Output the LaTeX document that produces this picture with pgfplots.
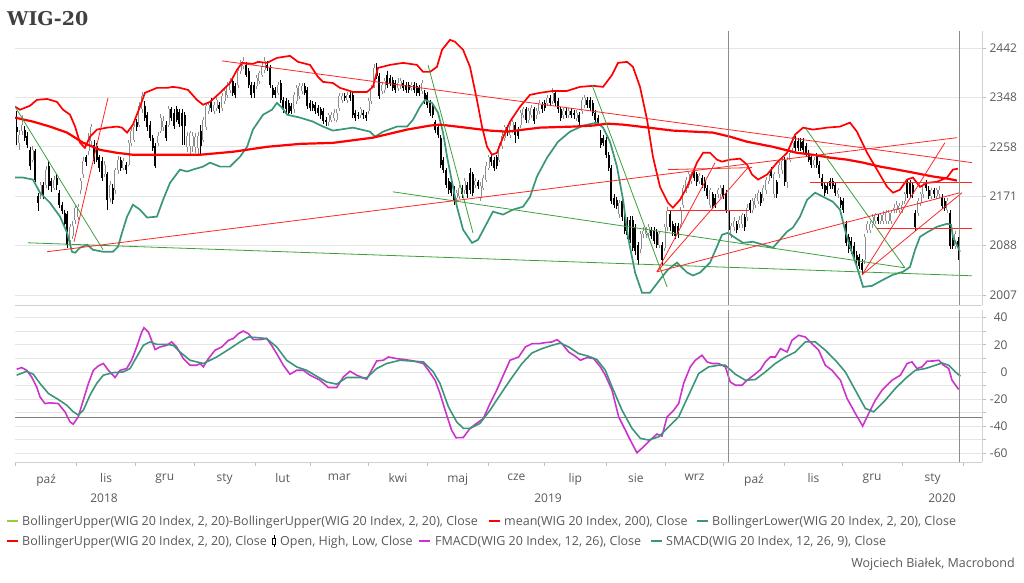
\documentclass[border=0pt]{standalone}
\usepackage{pgfplots}
\pgfplotsset{compat=1.18}
\usepackage{pgfplotstable}
\usepackage{fontspec}
\setmainfont{Open Sans}
\newfontfamily\titlefont{DejaVu Serif}

\definecolor{bbred}{RGB}{255,0,0}
\definecolor{bbteal}{RGB}{58,150,120}
\definecolor{fmag}{RGB}{204,51,204}
\definecolor{trgreen}{RGB}{60,160,60}
\definecolor{lgreen}{RGB}{154,205,50}
\definecolor{labc}{RGB}{89,89,89}
\definecolor{upc}{RGB}{140,140,140}

\pgfplotstableread{
j o h l c
0 2293 2324 2262 2284
1 2265 2289 2253 2280
2 2287 2316 2280 2298
3 2289 2295 2269 2274
4 2278 2284 2256 2262
5 2253 2258 2217 2224
6 2235 2260 2230 2253
7 2251 2254 2195 2200
8 2172 2177 2146 2160
9 2174 2196 2167 2191
10 2191 2196 2166 2172
11 2191 2223 2186 2216
12 2224 2232 2182 2189
13 2198 2203 2179 2189
14 2186 2207 2181 2200
15 2203 2210 2182 2191
16 2177 2182 2151 2156
17 2156 2161 2141 2146
18 2143 2148 2118 2123
19 2140 2145 2084 2089
20 2096 2124 2087 2118
21 2104 2128 2099 2121
22 2131 2156 2124 2151
23 2135 2158 2130 2153
24 2181 2203 2175 2198
25 2209 2239 2203 2233
26 2239 2244 2224 2230
27 2251 2282 2244 2274
28 2269 2300 2262 2293
29 2262 2271 2228 2233
30 2260 2265 2230 2235
31 2239 2244 2214 2221
32 2233 2239 2198 2203
33 2209 2232 2204 2226
34 2209 2214 2148 2165
35 2168 2198 2161 2191
36 2186 2193 2158 2165
37 2181 2221 2175 2216
38 2216 2242 2210 2235
39 2235 2240 2215 2221
40 2221 2238 2216 2233
41 2226 2231 2210 2216
42 2226 2271 2223 2265
43 2265 2295 2260 2287
44 2271 2300 2266 2293
45 2302 2309 2287 2293
46 2298 2340 2293 2333
47 2326 2359 2320 2351
48 2333 2342 2305 2311
49 2316 2322 2287 2293
50 2298 2304 2269 2274
51 2274 2280 2251 2256
52 2260 2265 2221 2224
53 2265 2285 2260 2278
54 2287 2318 2282 2311
55 2293 2313 2287 2305
56 2298 2305 2269 2274
57 2298 2333 2293 2326
58 2326 2331 2305 2311
59 2320 2326 2291 2296
60 2326 2333 2302 2307
61 2322 2327 2293 2300
62 2320 2326 2262 2296
63 2316 2322 2262 2296
64 2258 2284 2249 2278
65 2260 2286 2245 2282
66 2260 2284 2249 2278
67 2258 2282 2247 2276
68 2256 2284 2245 2278
69 2287 2298 2244 2260
70 2271 2312 2266 2307
71 2293 2338 2288 2333
72 2324 2340 2318 2335
73 2342 2347 2322 2329
74 2324 2340 2318 2335
75 2329 2349 2324 2344
76 2335 2340 2320 2326
77 2329 2357 2323 2351
78 2342 2366 2336 2361
79 2353 2377 2348 2372
80 2362 2385 2357 2379
81 2379 2385 2351 2357
82 2370 2375 2348 2353
83 2372 2404 2366 2398
84 2398 2419 2393 2414
85 2408 2425 2402 2418
86 2410 2416 2386 2391
87 2398 2403 2366 2372
88 2372 2377 2347 2353
89 2372 2377 2348 2357
90 2370 2390 2364 2385
91 2379 2399 2374 2395
92 2391 2413 2386 2408
93 2400 2425 2395 2418
94 2410 2417 2399 2404
95 2404 2409 2366 2372
96 2366 2371 2348 2353
97 2362 2367 2348 2353
98 2357 2377 2352 2372
99 2375 2381 2338 2344
100 2344 2349 2320 2326
101 2342 2347 2320 2326
102 2338 2343 2314 2320
103 2333 2338 2318 2324
104 2326 2358 2320 2353
105 2342 2371 2337 2366
106 2351 2375 2346 2370
107 2361 2375 2355 2370
108 2370 2375 2352 2357
109 2362 2367 2327 2333
110 2338 2343 2323 2329
111 2336 2341 2323 2329
112 2335 2340 2318 2324
113 2329 2334 2314 2320
114 2326 2331 2309 2315
115 2324 2329 2299 2305
116 2307 2312 2295 2302
117 2302 2320 2296 2315
118 2307 2322 2302 2316
119 2311 2326 2305 2320
120 2307 2326 2302 2320
121 2329 2357 2324 2351
122 2344 2357 2338 2351
123 2351 2356 2342 2348
124 2344 2358 2338 2353
125 2353 2361 2342 2348
126 2353 2358 2311 2316
127 2320 2325 2305 2311
128 2316 2322 2309 2315
129 2316 2331 2311 2326
130 2320 2325 2309 2315
131 2316 2322 2305 2311
132 2324 2347 2318 2342
133 2342 2371 2337 2366
134 2372 2412 2366 2404
135 2404 2414 2383 2389
136 2389 2394 2346 2351
137 2361 2377 2355 2372
138 2362 2385 2357 2379
139 2391 2398 2366 2372
140 2385 2390 2370 2375
141 2381 2386 2361 2366
142 2375 2381 2357 2362
143 2366 2385 2361 2375
144 2370 2385 2364 2379
145 2375 2381 2361 2366
146 2372 2377 2357 2362
147 2372 2377 2356 2362
148 2366 2377 2361 2372
149 2372 2377 2357 2362
150 2370 2375 2351 2357
151 2366 2371 2351 2357
152 2361 2381 2355 2375
153 2357 2362 2336 2342
154 2353 2358 2329 2335
155 2338 2343 2314 2320
156 2333 2338 2311 2316
157 2302 2307 2283 2289
158 2293 2298 2274 2280
159 2274 2280 2221 2226
160 2235 2240 2212 2217
161 2216 2221 2186 2191
162 2198 2203 2175 2181
163 2195 2200 2171 2177
164 2182 2188 2156 2165
165 2168 2182 2162 2177
166 2172 2191 2166 2186
167 2186 2191 2168 2174
168 2181 2203 2175 2198
169 2191 2196 2168 2174
170 2212 2221 2175 2181
171 2209 2214 2171 2177
172 2191 2203 2186 2198
173 2195 2200 2184 2189
174 2168 2195 2163 2189
175 2186 2208 2181 2203
176 2200 2230 2195 2224
177 2221 2244 2216 2239
178 2239 2244 2224 2230
179 2235 2240 2215 2221
180 2239 2244 2218 2224
181 2235 2265 2230 2260
182 2260 2284 2254 2278
183 2274 2298 2269 2293
184 2293 2298 2278 2284
185 2280 2302 2274 2296
186 2289 2307 2283 2302
187 2298 2303 2265 2280
188 2289 2294 2272 2278
189 2298 2325 2292 2320
190 2316 2331 2311 2326
191 2326 2331 2301 2307
192 2307 2329 2301 2324
193 2316 2335 2311 2329
194 2326 2331 2299 2305
195 2315 2329 2309 2324
196 2324 2344 2318 2338
197 2335 2340 2320 2326
198 2338 2344 2323 2329
199 2338 2353 2333 2348
200 2348 2353 2332 2338
201 2342 2366 2337 2357
202 2357 2362 2332 2338
203 2342 2347 2320 2326
204 2326 2331 2305 2311
205 2315 2329 2309 2324
206 2324 2329 2311 2316
207 2316 2329 2311 2324
208 2324 2329 2311 2316
209 2320 2325 2309 2315
210 2311 2325 2305 2320
211 2316 2322 2296 2302
212 2324 2349 2318 2344
213 2335 2353 2329 2348
214 2344 2349 2329 2335
215 2344 2349 2323 2329
216 2338 2343 2314 2320
217 2320 2325 2301 2307
218 2311 2316 2296 2302
219 2274 2289 2256 2262
220 2274 2280 2260 2265
221 2271 2276 2238 2244
222 2244 2249 2215 2221
223 2221 2226 2157 2163
224 2168 2174 2150 2156
225 2165 2170 2149 2155
226 2140 2165 2134 2160
227 2163 2168 2129 2135
228 2135 2140 2106 2112
229 2129 2135 2099 2105
230 2131 2137 2091 2097
231 2131 2137 2078 2084
232 2118 2123 2072 2079
233 2089 2094 2056 2063
234 2081 2111 2075 2106
235 2106 2118 2100 2112
236 2106 2119 2100 2114
237 2109 2123 2103 2118
238 2114 2119 2098 2104
239 2112 2118 2090 2095
240 2110 2115 2083 2089
241 2089 2111 2083 2106
242 2089 2094 2054 2063
243 2084 2123 2078 2118
244 2118 2152 2112 2146
245 2140 2145 2112 2118
246 2123 2128 2104 2110
247 2121 2126 2098 2104
248 2121 2126 2100 2106
249 2123 2152 2117 2146
250 2156 2191 2151 2186
251 2182 2205 2177 2200
252 2191 2214 2186 2209
253 2198 2214 2193 2209
254 2216 2221 2198 2203
255 2209 2214 2189 2195
256 2198 2212 2193 2207
257 2203 2208 2186 2191
258 2200 2205 2180 2186
259 2186 2191 2166 2172
260 2156 2186 2151 2181
261 2174 2179 2149 2155
262 2168 2174 2151 2156
263 2174 2186 2168 2181
264 2174 2191 2168 2186
265 2186 2191 2166 2172
266 2177 2182 2142 2148
267 2148 2153 2079 2114
268 2106 2126 2100 2121
269 2118 2135 2112 2129
270 2123 2128 2108 2114
271 2123 2137 2117 2131
272 2123 2143 2117 2138
273 2135 2140 2112 2118
274 2135 2157 2129 2151
275 2160 2165 2142 2148
276 2148 2168 2142 2163
277 2156 2174 2151 2168
278 2163 2182 2158 2177
279 2174 2179 2154 2160
280 2168 2191 2163 2186
281 2181 2205 2175 2200
282 2198 2214 2193 2209
283 2217 2222 2202 2207
284 2174 2214 2168 2209
285 2195 2200 2168 2174
286 2209 2231 2203 2226
287 2216 2238 2210 2233
288 2235 2240 2189 2195
289 2195 2240 2186 2235
290 2235 2253 2230 2247
291 2256 2276 2251 2265
292 2269 2278 2251 2256
293 2269 2274 2251 2256
294 2267 2273 2251 2256
295 2269 2274 2247 2253
296 2260 2265 2242 2247
297 2247 2253 2230 2235
298 2239 2244 2221 2226
299 2226 2240 2221 2235
300 2242 2247 2221 2226
301 2226 2232 2203 2209
302 2203 2209 2184 2189
303 2191 2196 2171 2177
304 2189 2195 2175 2181
305 2198 2203 2184 2189
306 2198 2203 2184 2189
307 2191 2196 2171 2177
308 2174 2186 2168 2181
309 2165 2170 2151 2156
310 2163 2168 2142 2148
311 2123 2128 2087 2092
312 2101 2106 2075 2081
313 2095 2101 2073 2079
314 2087 2093 2067 2072
315 2072 2078 2057 2063
316 2068 2073 2049 2054
317 2059 2065 2041 2047
318 2063 2106 2057 2101
319 2114 2128 2108 2123
320 2114 2128 2108 2123
321 2123 2140 2117 2135
322 2129 2143 2124 2138
323 2135 2140 2124 2129
324 2129 2143 2124 2138
325 2129 2145 2124 2139
326 2129 2148 2124 2143
327 2129 2148 2124 2143
328 2129 2148 2124 2143
329 2148 2157 2142 2151
330 2148 2162 2142 2156
331 2148 2160 2142 2155
332 2148 2162 2142 2156
333 2163 2179 2158 2174
334 2195 2200 2168 2174
335 2195 2200 2168 2174
336 2191 2196 2168 2174
337 2143 2148 2112 2118
338 2143 2168 2137 2163
339 2160 2179 2154 2174
340 2174 2196 2168 2191
341 2195 2200 2180 2186
342 2182 2188 2166 2172
343 2172 2186 2166 2181
344 2181 2186 2168 2174
345 2172 2186 2166 2181
346 2174 2188 2168 2182
347 2168 2174 2149 2155
348 2163 2168 2146 2151
349 2148 2168 2142 2163
350 2143 2148 2082 2087
351 2097 2103 2082 2087
352 2087 2111 2082 2106
353 2095 2101 2063 2084
}\ohlc

% split the OHLC table into jump-separated segment lists (down = black, up = hollow)
\pgfplotstablegetrowsof{\ohlc}
\pgfmathtruncatemacro{\lastrow}{\pgfplotsretval-1}
\gdef\wickdn{}\gdef\bodydn{}\gdef\wickup{}\gdef\bodyup{}
\foreach \rowi in {0,...,\lastrow}{%
  \pgfplotstablegetelem{\rowi}{j}\of\ohlc\let\candJ\pgfplotsretval
  \pgfplotstablegetelem{\rowi}{o}\of\ohlc\let\candO\pgfplotsretval
  \pgfplotstablegetelem{\rowi}{h}\of\ohlc\let\candH\pgfplotsretval
  \pgfplotstablegetelem{\rowi}{l}\of\ohlc\let\candL\pgfplotsretval
  \pgfplotstablegetelem{\rowi}{c}\of\ohlc\let\candC\pgfplotsretval
  \ifdim\candO pt>\candC pt\relax
    \xdef\wickdn{\wickdn(\candJ,\candL)(\candJ,\candH)(\candJ,nan)}%
    \xdef\bodydn{\bodydn(\candJ,\candO)(\candJ,\candC)(\candJ,nan)}%
  \else
    \xdef\wickup{\wickup(\candJ,\candL)(\candJ,\candH)(\candJ,nan)}%
    \xdef\bodyup{\bodyup(\candJ,\candC)(\candJ,\candO)(\candJ,nan)}%
  \fi
}
\newcommand\plotsegs[2]{\edef\plotsegstmp{\noexpand\addplot[#1] coordinates {#2};}\plotsegstmp}

\pgfplotsset{
  wigbase/.style={
    scale only axis, width=967pt,
    xmin=-0.626, xmax=362.0,
    axis x line*=bottom, axis y line*=right,
    tick align=outside,
    axis line style={draw=black!18, line width=0.6pt},
    tick style={draw=black!25, line width=0.6pt},
    major tick length=4pt, minor tick length=4pt,
    ymajorgrids,
    major grid style={draw=black!10, line width=0.7pt},
    minor grid style={draw=black!10, line width=0.7pt},
    ticklabel style={font=\fontsize{12}{14}\selectfont, text=labc},
    unbounded coords=jump,
    clip=true,
  }
}

\begin{document}
\begin{tikzpicture}
\useasboundingbox (0pt,0pt) rectangle (1024pt,-582pt);

% ---------------- price panel ----------------
\begin{axis}[wigbase,
  at={(15pt,-31pt)}, anchor=north west, height=274pt,
  ymode=log, ymin=1991.6, ymax=2475.8,
  xtick=\empty,
  ytick={2007,2088,2171,2258,2348,2442},
  yticklabels={2007,2088,2171,2258,2348,2442},
  yticklabel style={anchor=west, xshift=0pt},
]
% candles
\plotsegs{draw=upc, line width=0.6pt, forget plot}{\wickup}
\plotsegs{draw=upc, line width=1.9pt, forget plot}{\bodyup}
\plotsegs{draw=white, line width=0.7pt, forget plot}{\bodyup}
\plotsegs{draw=black, line width=0.6pt, forget plot}{\wickdn}
\plotsegs{draw=black, line width=1.8pt, forget plot}{\bodydn}

% Bollinger lower
\addplot[bbteal, line width=1.7pt, forget plot] coordinates {
(-0.6,2203.4)(2.4,2203.4)(6.1,2199.9)(8.75,2177.1)(12.5,2159.7)(16.25,2136.1)(18.9,2108.8)(20.75,2077.3)(21.9,2075.6)(23.75,2083.9)(26.4,2088.9)(28.6,2080.5)(32.4,2077.3)(36.1,2077.3)(38,2085.5)(39.5,2108.8)(41.4,2136.1)(43.6,2156.4)(46.25,2147.9)(48.9,2134.5)(52.6,2136.1)(54.9,2164.8)(57.5,2194.2)(61.25,2217.4)(63.9,2213.9)(66.1,2217.4)(69.9,2222.7)(72.5,2229.7)(76.25,2222.7)(80,2222.7)(83.75,2240.2)(86.4,2257.9)(88.6,2289)(92.4,2316.3)(95.75,2325.5)(97.6,2338.2)(99.5,2329.1)(101.4,2316.3)(106.25,2310.9)(111.1,2303.6)(114.9,2294.5)(118.6,2287.2)(121.25,2289)(126.1,2292.6)(132.5,2285.3)(134.4,2276.2)(137.4,2285.3)(142.6,2294.5)(146.4,2294.5)(148.6,2306.8)(151.25,2331)(153.1,2343.7)(155.75,2338.2)(158,2320)(159.9,2283.5)(161.4,2240.2)(163.25,2195.9)(165.1,2153)(167.4,2114)(170.75,2092.1)(173,2097.1)(175.6,2118.9)(178.6,2144.6)(182.4,2139.5)(186.1,2147.9)(189.9,2153)(192.5,2169.9)(195.1,2205.2)(198.9,2238.5)(203,2267.1)(207.5,2285.3)(212.4,2296.3)(217.6,2301.7)(219.9,2292.6)(222.5,2267.1)(225.1,2222.7)(227.4,2164.8)(229.25,2102.1)(231.9,2043.2)(234.5,2010.8)(237.5,2010.8)(241.25,2031.9)(244.25,2048.1)(247.6,2059.4)(251.4,2043.2)(253.6,2038.4)(256.25,2043.2)(260,2059.4)(262.6,2085.5)(264.5,2105.5)(266.75,2108.8)(269.4,2100.5)(272.4,2092.1)(276.1,2093.8)(279.9,2088.9)(283.6,2083.9)(286.25,2097.4)(288.9,2110.8)(291.1,2117.6)(293.75,2136.1)(296.4,2164.8)(299.4,2177.1)(302.4,2170.1)(306.1,2161.4)(308.75,2147.9)(310.6,2114)(312.5,2085.5)(315.1,2052.4)(317.4,2020)(320.75,2021.7)(324.9,2031.5)(328.6,2039.6)(332.4,2044.5)(335,2052.4)(336.9,2080.5)(338.75,2102.1)(341.75,2110.5)(345.1,2118.9)(348.9,2124)(350.4,2122.3)(351.1,2102.1)(353.75,2077.3)};

% Bollinger upper
\addplot[bbred, line width=1.7pt, forget plot] coordinates {
(-0.6,2331)(1.25,2325.5)(5,2332.8)(7.6,2343.7)(11.4,2345.5)(15.1,2340)(17.4,2325.5)(20,2316.3)(21.9,2294.5)(23.75,2265.3)(25.6,2256.1)(27.5,2276.2)(30.1,2289)(33.9,2292.6)(37.6,2294.5)(39.5,2292.6)(41.4,2283.5)(43.6,2298.1)(46.25,2331)(48.1,2356.9)(52.6,2366.2)(56.4,2366.2)(58.6,2368.1)(61.25,2366.2)(64.25,2362.4)(67.6,2343.7)(69.9,2334.6)(72.5,2340)(76.25,2356.9)(80,2375.4)(82.6,2400.2)(84.5,2413.7)(88.6,2411.7)(90.5,2415.6)(93.9,2413.7)(97.6,2423.3)(102.5,2427.2)(105.5,2415.6)(110,2409.8)(113,2386.9)(114.9,2377.4)(118.6,2375.4)(121.25,2366.2)(126.1,2358.6)(131.4,2358.6)(133.6,2368.1)(135.5,2404.1)(140,2409.8)(144.9,2413.7)(150.1,2409.8)(152.4,2396.4)(155,2396.4)(157.6,2406)(159.5,2438.8)(162.5,2458.3)(164.4,2454.4)(167.4,2438.8)(170,2406)(172.6,2343.7)(174.5,2294.5)(176.4,2257.9)(178.25,2243.7)(180.1,2247.2)(182,2270.7)(185,2303.6)(188.75,2331)(192.5,2353.1)(196.25,2356.9)(201.1,2360.5)(206.4,2360.5)(211.25,2368.1)(216.1,2370)(219.9,2368.1)(223.25,2390.7)(225.5,2413.7)(228.9,2415.6)(231.1,2406)(233.75,2368.1)(236.4,2306.8)(238.6,2240.2)(241.25,2187.2)(244.25,2159.7)(246.1,2151.3)(248.75,2164.8)(251.4,2187.2)(255.1,2229.7)(257.4,2247.2)(260,2247.2)(262.6,2235)(264.5,2231.5)(267.5,2235)(271.25,2236.7)(273.9,2226.2)(275.75,2208.7)(278,2199.9)(281.4,2208.7)(285.1,2229.7)(288.9,2247.2)(291.9,2279.9)(294.9,2292.6)(298.6,2289)(303.9,2292.6)(308.75,2294.5)(312.5,2301.7)(315.1,2285.3)(318.9,2247.2)(322.6,2217.4)(326.4,2187.2)(328.6,2177.1)(331.25,2182.3)(333.9,2199.9)(336.1,2203.4)(338.75,2187.2)(341.4,2194.2)(345.1,2195.9)(348.9,2203.4)(351.1,2217.4)(353,2219.1)};

% 200-day mean
\addplot[bbred, line width=2.2pt, forget plot] coordinates {
(-0.6,2310.9)(6.1,2303.6)(12.5,2294.5)(18.9,2283.5)(24.9,2265.3)(31.25,2252.5)(37.6,2247.2)(43.6,2243.7)(56.4,2243.7)(68.75,2243.7)(81.1,2249)(93.9,2257.9)(106.25,2263.2)(118.6,2265)(133.6,2274.4)(146.4,2289)(155,2296.3)(158.75,2298.1)(165.1,2294.5)(177.5,2287.2)(183.9,2285.3)(196.25,2292.6)(208.6,2294.5)(216.1,2296.3)(221.4,2299.9)(227.4,2298.1)(233.75,2294.5)(246.1,2287.2)(261.1,2283.5)(267.5,2276.2)(273.9,2267.1)(283.6,2257.9)(292.6,2247.2)(298.6,2243.7)(305,2238.5)(311.4,2235)(317.4,2229.7)(323.75,2222.7)(330.1,2217.4)(336.1,2212.2)(343.6,2205.2)(348.9,2201.7)(352.6,2198.1)};

% green trend lines
\addplot[trgreen, line width=0.8pt, forget plot] coordinates {(-0.6,2331)(32.4,2080.5)};
\addplot[trgreen, line width=0.8pt, forget plot] coordinates {(4.25,2092.1)(358.25,2037.9)};
\addplot[trgreen, line width=0.8pt, forget plot] coordinates {(154.25,2409.8)(171.1,2108.8)};
\addplot[trgreen, line width=0.8pt, forget plot] coordinates {(141.1,2178.6)(333.1,2050.9)};
\addplot[trgreen, line width=0.8pt, forget plot] coordinates {(215.75,2371.8)(243.9,2020)};
\addplot[trgreen, line width=0.8pt, forget plot] coordinates {(296,2290.3)(333.1,2050.9)};
% red trend lines
\addplot[bbred!85, line width=0.8pt, forget plot] coordinates {(11.4,2077.3)(352.6,2274.4)};
\addplot[bbred!85, line width=0.8pt, forget plot] coordinates {(77,2417.5)(358.25,2229.7)};
\addplot[bbred!85, line width=0.8pt, forget plot] coordinates {(21.5,2093.8)(34.25,2347.4)};
\addplot[bbred!85, line width=0.8pt, forget plot] coordinates {(240.1,2044.3)(261.9,2229.7)};
\addplot[bbred!85, line width=0.8pt, forget plot] coordinates {(240.1,2044.3)(274.25,2220.9)};
\addplot[bbred!85, line width=0.8pt, forget plot] coordinates {(240.1,2044.3)(353.75,2177.1)};
\addplot[bbred!85, line width=0.8pt, forget plot] coordinates {(317,2039.6)(348.1,2265.3)};
\addplot[bbred!85, line width=0.8pt, forget plot] coordinates {(317,2039.6)(354.5,2177.1)};
\addplot[bbred!85, line width=0.8pt, forget plot] coordinates {(244.25,2217.4)(275.75,2220.9)};
\addplot[bbred!85, line width=0.8pt, forget plot] coordinates {(243.9,2146.3)(274.6,2146.3)};
\addplot[bbred!85, line width=0.8pt, forget plot] coordinates {(297.5,2194.2)(358.25,2194.2)};
\addplot[bbred!85, line width=0.8pt, forget plot] coordinates {(322.6,2115.5)(358.25,2115.5)};

\draw[black!45, line width=0.7pt] (axis cs:266.9,1991.6) -- (axis cs:266.9,2475.8);
\draw[black!45, line width=0.7pt] (axis cs:353.4,1991.6) -- (axis cs:353.4,2475.8);
\end{axis}

% ---------------- MACD panel ----------------
\begin{axis}[wigbase,
  at={(15pt,-310.3pt)}, anchor=north west, height=152pt,
  ymin=-66.6, ymax=45.4,
  ytick={-60,-40,-20,0,20,40},
  yticklabels={-60,-40,-20,0,20,40},
  minor ytick={-50,-30,-10,10,30},
  yminorgrids,
  yticklabel style={anchor=east, xshift=25pt},
  xtick={-0.36,22.5,44.6,66.5,89.5,110,132,154,176.8,198,221,243.4,265,288,309.6,332,355},
  xticklabels={paź,lis,gru,sty,lut,mar,kwi,maj,cze,lip,sie,wrz,paź,lis,gru,sty},
  x tick label as interval,
  xticklabel style={yshift=-4pt},
]
\draw[black!50, line width=0.8pt] (axis cs:-0.626,-33.5) -- (axis cs:362,-33.5);

\addplot[fmag, line width=1.6pt, forget plot] coordinates {
(0,2)(1.9,3.2)(3.75,1.2)(5.6,-3.7)(7.5,-11)(8.75,-18.4)(10.6,-23.3)(12.5,-22.8)(15.6,-23.3)(18.1,-29.4)(20,-36.8)(21.2,-38.5)(23.1,-33.1)(25,-20.8)(26.9,-8.5)(28.75,1.2)(30.6,4.4)(32.5,6.2)(34.4,1.2)(36.9,-4.1)(38.75,1.2)(41.25,2.5)(43.1,8.6)(45,18.4)(46.9,29.4)(47.75,32.6)(49.4,29.4)(51.9,16.5)(53.75,18.4)(56.25,19.6)(58.1,22.1)(60,18.4)(62.5,9.8)(65,4.9)(67.5,4.9)(68.75,6.2)(70,3.7)(71.9,9.8)(74.4,16)(76.9,18.4)(79.4,23.3)(81.25,24.6)(83.1,28.2)(85,30.1)(86.9,28.2)(88.75,23.8)(91.25,23.8)(93.75,24.6)(95.6,19.6)(97.5,13.5)(100,4.9)(102.5,-1.7)(105,1.2)(107.5,1.2)(110,-2.4)(113.75,-6.1)(116.9,-11.5)(120,-11.5)(122.5,-3.7)(125,0.5)(127.5,-2.4)(131.25,-5.4)(135,8.1)(137.5,8.6)(139.4,11)(142.5,9.8)(145.6,9.1)(148.75,8.1)(152.5,6.2)(154.4,1.2)(156.9,-6.1)(158.75,-15.9)(161.25,-31.8)(163.1,-42.9)(164.75,-48.5)(167.5,-48.3)(170,-41.6)(172.5,-37.9)(175,-34.3)(177.5,-23.3)(180,-13.5)(182.5,-2.4)(185,8.6)(188.25,11)(190.75,18.4)(193.25,20.8)(195.75,20.8)(198.25,21.6)(200.75,22.1)(202.6,23.8)(204.5,20.8)(207,14.7)(209.5,11.5)(211.4,8.6)(213.9,10.6)(216.4,9.8)(218.9,3.7)(220.75,-2.4)(223.25,-13.5)(225.75,-33.1)(228.25,-42.9)(230.1,-50.2)(232.6,-59.6)(235.1,-55.1)(237.6,-50.2)(240.1,-45.8)(242,-47.3)(243.9,-33.1)(246.4,-28.2)(248.25,-23.3)(250.1,-8.5)(252.6,3.7)(254.5,8.6)(257,12.3)(258.9,7.4)(260.75,6.2)(263.25,6.2)(265.75,3.7)(267.6,-7.4)(269.5,-9.8)(272,-9.8)(273.9,-6.1)(276.4,-2.4)(278.9,1.7)(280.75,7.4)(282.6,11)(284.5,11)(286.4,17.2)(288.9,14.7)(290.75,23.3)(293.25,27)(295.75,25.7)(298.25,20.8)(300.75,16)(303.25,4.9)(305.75,1.2)(308.9,-6.1)(311.4,-19.6)(314.5,-30.6)(317.25,-39.9)(319.5,-30.6)(322,-20.8)(324.5,-13.5)(328.25,-6.1)(331.4,-2.4)(333.9,6.2)(335.75,7.4)(337.6,2.5)(339.5,3.7)(341.4,7.9)(343.9,8.1)(345.75,8.6)(347.6,4.9)(349.5,2.5)(350.75,-6.1)(353.25,-12.9)};

\addplot[bbteal, line width=1.6pt, forget plot] coordinates {
(0,-2.4)(3.75,0.5)(6.25,-1.7)(8.75,-8.5)(11.9,-15.9)(15.6,-20.3)(18.75,-24.5)(21.25,-29.4)(23.1,-31.8)(25,-28.2)(27.5,-17.1)(30,-8.5)(32.5,-2.4)(36.25,-0.5)(40,0)(42.5,2.5)(45,11)(47.5,19.6)(50,22.1)(52.5,20.3)(56.25,20.3)(58.75,19.6)(61.25,14.7)(65,8.6)(70,6.2)(75,11)(80,17.2)(83.75,22.1)(86.9,25.7)(90,25.3)(93.75,24.6)(97.5,18.4)(101.25,8.6)(105,3.7)(108.75,1.2)(112.5,-3.2)(116.25,-7.4)(120,-9)(123.75,-4.1)(127.5,-4.1)(131.25,-4.4)(135,2.5)(138.75,6.2)(143.75,8.6)(148.75,7.9)(152.5,7.4)(156.25,0)(158.75,-8.5)(161.9,-25.7)(165,-36.8)(167.5,-41.6)(170,-41.6)(173.75,-37.9)(177.5,-28.2)(181.25,-17.1)(185,-6.1)(189.5,6.2)(193.25,14)(197,17.2)(200.75,19.6)(203.9,21.3)(207,18.4)(210.75,13.5)(214.5,11.5)(217.6,9.1)(220.75,1.2)(223.25,-11)(227,-28.2)(230.75,-41.6)(233.9,-49)(237,-50.2)(240.75,-47.8)(244.5,-40.4)(248.25,-33.1)(252,-17.1)(255.75,-1.2)(259.5,3.7)(263.25,4.9)(265.75,4.9)(269.5,-1.7)(273.25,-6.1)(277,-5.6)(280.75,0)(284.5,6.2)(288.25,11)(292,14.7)(295.75,22.1)(299.5,22.1)(303.25,16)(307,8.6)(310.75,0)(314.5,-13.5)(318.25,-26.9)(321.4,-29.4)(325.75,-20.8)(329.5,-12.2)(333.25,-4.9)(337,1.2)(340.75,2.5)(344.5,4.9)(347,6.6)(349.5,4.9)(352,0)(353.9,-3.2)};

\draw[black!45, line width=0.7pt] (axis cs:266.9,-66.6) -- (axis cs:266.9,45.4);
\draw[black!45, line width=0.7pt] (axis cs:353.4,-66.6) -- (axis cs:353.4,45.4);
\end{axis}

% ---------------- texts ----------------
\node[anchor=north west, inner sep=0pt, text=black!75] at (7pt,-11.5pt)
  {\titlefont\bfseries\fontsize{19}{21}\selectfont WIG-20};

\begin{scope}[every node/.style={font=\fontsize{12}{14}\selectfont, text=labc, inner sep=0pt}]
\node[anchor=base] at (104pt,-502pt) {2018};
\node[anchor=base] at (548pt,-502pt) {2019};
\node[anchor=base] at (942pt,-502pt) {2020};
\end{scope}

\begin{scope}[every node/.style={font=\fontsize{12.5}{14}\selectfont, text=labc, inner sep=0pt}]
% legend row 1
\draw[lgreen, line width=2.5pt] (7pt,-521pt) -- (18pt,-521pt);
\node[anchor=base west] at (22pt,-525.5pt) {BollingerUpper(WIG 20 Index, 2, 20)-BollingerUpper(WIG 20 Index, 2, 20), Close};
\draw[bbred, line width=2.5pt] (489pt,-521pt) -- (500pt,-521pt);
\node[anchor=base west] at (504pt,-525.5pt) {mean(WIG 20 Index, 200), Close};
\draw[bbteal, line width=2.5pt] (697pt,-521pt) -- (708pt,-521pt);
\node[anchor=base west] at (712pt,-525.5pt) {BollingerLower(WIG 20 Index, 2, 20), Close};
% legend row 2
\draw[bbred, line width=2.5pt] (7pt,-541pt) -- (18pt,-541pt);
\node[anchor=base west] at (22pt,-545.5pt) {BollingerUpper(WIG 20 Index, 2, 20), Close};
\draw[black, line width=0.7pt] (274pt,-535pt) -- (274pt,-547pt);
\draw[black, fill=white, line width=0.7pt] (272.3pt,-538pt) rectangle (275.7pt,-544pt);
\node[anchor=base west] at (280pt,-545.5pt) {Open, High, Low, Close};
\draw[fmag, line width=2.5pt] (419pt,-541pt) -- (430pt,-541pt);
\node[anchor=base west] at (435pt,-545.5pt) {FMACD(WIG 20 Index, 12, 26), Close};
\draw[bbteal, line width=2.5pt] (651pt,-541pt) -- (662pt,-541pt);
\node[anchor=base west] at (666pt,-545.5pt) {SMACD(WIG 20 Index, 12, 26, 9), Close};

\node[anchor=base east] at (1015pt,-567.5pt) {Wojciech Białek, Macrobond};
\end{scope}
\end{tikzpicture}
\end{document}
